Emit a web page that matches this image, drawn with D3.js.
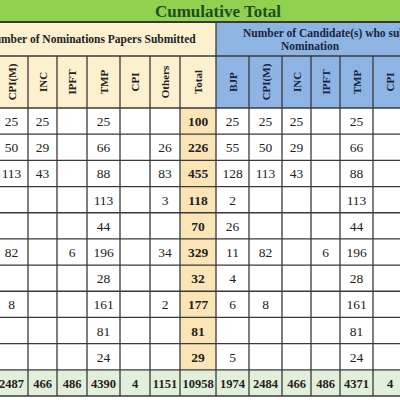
<!DOCTYPE html>
<html><head><meta charset="utf-8">
<script src="https://cdn.jsdelivr.net/npm/d3@7"></script>
<style>body{margin:0;background:#fff}svg{display:block}</style>
</head><body><svg id="c" width="400" height="400"></svg>
<script>
const title = "Cumulative Total";
const leftHeader = "Number of Nominations Papers Submitted";
const rightHeader = ["Number of Candidate(s) who submitted", "Nomination"];
const columns = ["CPI(M)","INC","IPFT","TMP","CPI","Others","Total","BJP","CPI(M)","INC","IPFT","TMP","CPI"];
const groups  = ["L","L","L","L","L","L","L","R","R","R","R","R","R"];
const rows = [
 [25,25,null,25,null,null,100, 25,25,25,null,25,null],
 [50,29,null,66,null,26,226, 55,50,29,null,66,null],
 [113,43,null,88,null,83,455, 128,113,43,null,88,null],
 [null,null,null,113,null,3,118, 2,null,null,null,113,null],
 [null,null,null,44,null,null,70, 26,null,null,null,44,null],
 [82,null,6,196,null,34,329, 11,82,null,6,196,null],
 [null,null,null,28,null,null,32, 4,null,null,null,28,null],
 [8,null,null,161,null,2,177, 6,8,null,null,161,null],
 [null,null,null,81,null,null,81, null,null,null,null,81,null],
 [null,null,null,24,null,null,29, 5,null,null,null,24,null]
];
const totals = [2487,466,486,4390,4,1151,10958, 1974,2484,466,486,4371,4];

const widths = [33,29,30,33,30,30,36,33,33,29,29,33,34];
const x0 = -5;
const edges = [x0]; widths.forEach(w=>edges.push(edges[edges.length-1]+w));
const colX = d3.scaleOrdinal().domain(d3.range(columns.length)).range(edges.slice(0,-1));
const rowY = d3.scaleBand().domain(d3.range(rows.length+1)).range([108,396]);

const svg = d3.select("#c");
const font = "'Liberation Serif', 'DejaVu Serif', serif";
const line = "#3a3a3a";

svg.append("rect").attr("x",0).attr("y",0).attr("width",400).attr("height",22).attr("fill","#92d050");
svg.append("text").attr("x",218).attr("y",17).attr("text-anchor","middle")
  .attr("font-family",font).attr("font-weight","bold").attr("font-size",17).attr("fill","#1e4d1e").text(title);

const splitX = edges[7];
svg.append("rect").attr("x",0).attr("y",22).attr("width",splitX).attr("height",86).attr("fill","#fdf0cf");
svg.append("rect").attr("x",splitX).attr("y",22).attr("width",400-splitX).attr("height",86).attr("fill","#8db4e3");
svg.append("text").attr("x",91).attr("y",43).attr("text-anchor","middle").attr("font-family",font)
  .attr("font-weight","bold").attr("font-size",11.5).attr("fill","#222").text(leftHeader);
svg.append("text").attr("x",243).attr("y",37).attr("font-family",font)
  .attr("font-weight","bold").attr("font-size",11.5).attr("fill","#1a2440").text(rightHeader[0]);
svg.append("text").attr("x",310).attr("y",50).attr("text-anchor","middle").attr("font-family",font)
  .attr("font-weight","bold").attr("font-size",11.5).attr("fill","#1a2440").text(rightHeader[1]);

columns.forEach((c,i)=>{
  const x = colX(i), w = widths[i];
  svg.append("text").attr("transform",`translate(${x+w/2+4},82) rotate(-90)`)
    .attr("text-anchor","middle").attr("font-family",font).attr("font-weight","bold")
    .attr("font-size",11).attr("fill", groups[i]==="L"?"#222":"#1a2440").text(c);
});

const all = rows.concat([totals]);
all.forEach((r,ri)=>{
  const y = rowY(ri), h = rowY.bandwidth();
  const isTot = ri===rows.length;
  r.forEach((v,ci)=>{
    const x = colX(ci), w = widths[ci];
    let fill = "#ffffff";
    if (columns[ci]==="Total" && groups[ci]==="L") fill = "#fbe5b6";
    if (isTot) fill = "#e2efda";
    svg.append("rect").attr("x",x).attr("y",y).attr("width",w).attr("height",h).attr("fill",fill);
    if (v!==null) {
      svg.append("text").attr("x",x+w/2).attr("y",y+h/2+5).attr("text-anchor","middle")
        .attr("font-family",font).attr("font-size",isTot?12.5:13.5)
        .attr("font-weight",(isTot||columns[ci]==="Total")?"bold":"normal")
        .attr("fill","#222").text(v);
    }
  });
});

edges.forEach((e,i)=>{
  svg.append("line").attr("x1",e).attr("x2",e).attr("y1",i===7?22:56).attr("y2",396)
    .attr("stroke",line).attr("stroke-width",1.3);
});
[22,56].concat(d3.range(rows.length+2).map(i=>rowY(i)??396)).forEach(y=>{
  svg.append("line").attr("x1",0).attr("x2",400).attr("y1",y).attr("y2",y)
    .attr("stroke",line).attr("stroke-width",y===22?2:1.3);
});
</script></body></html>
